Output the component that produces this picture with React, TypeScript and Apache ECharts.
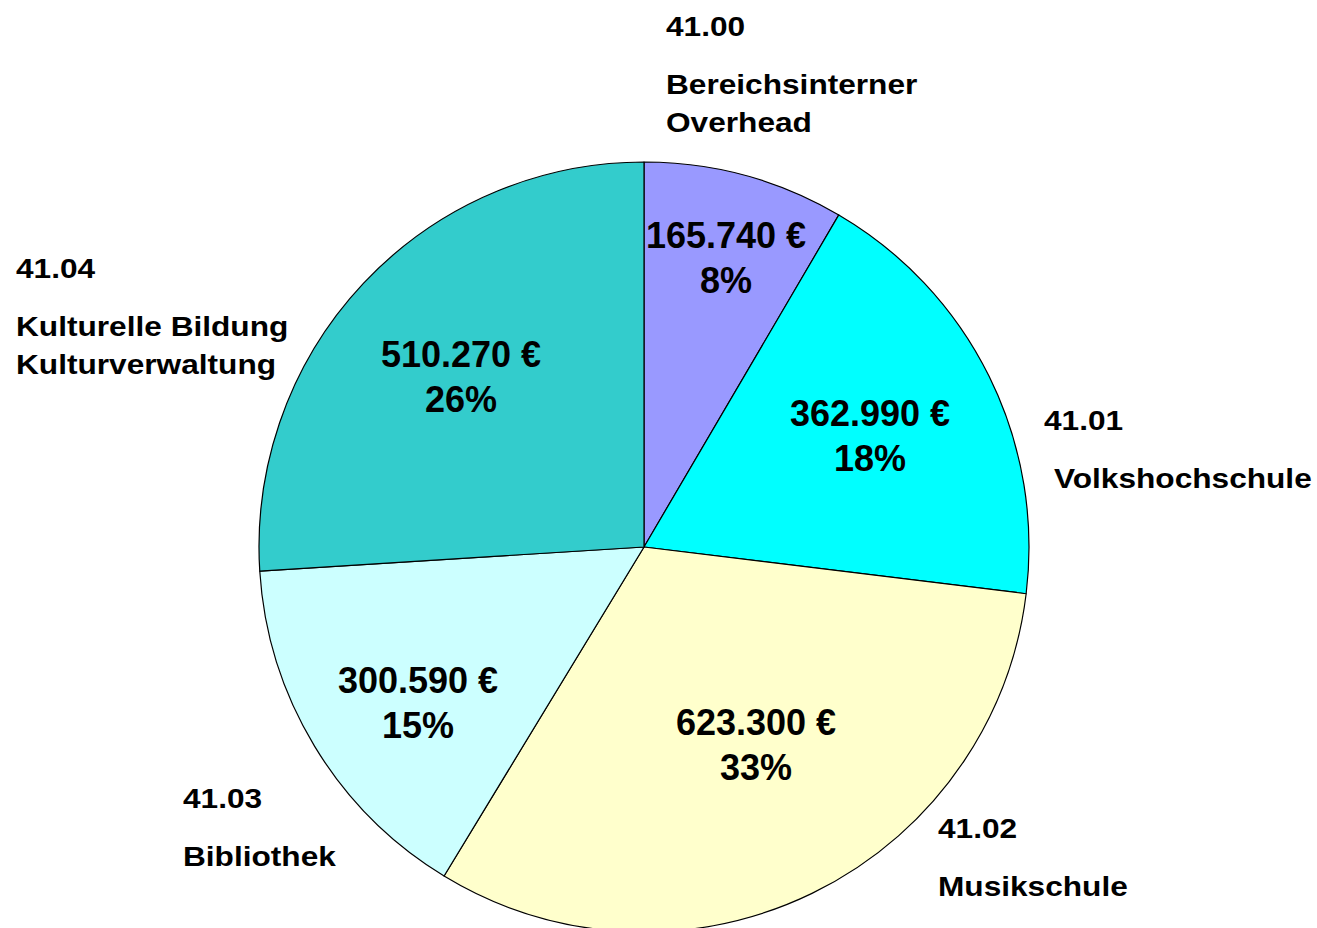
import React, { useEffect, useRef } from "react";
import * as echarts from "echarts";

// ---- data ----
const codes = ["41.00", "41.01", "41.02", "41.03", "41.04"];
const names = [
  ["Bereichsinterner", "Overhead"],
  ["Volkshochschule"],
  ["Musikschule"],
  ["Bibliothek"],
  ["Kulturelle Bildung", "Kulturverwaltung"],
];
const amounts = [165740, 362990, 623300, 300590, 510270];
const percents = [8, 18, 33, 15, 26];

// ---- styles / layout ----
const colors = ["#9999FF", "#00FFFF", "#FFFFCC", "#CCFFFF", "#33CCCC"];
const innerLabelPos = [
  [726, 258],
  [870, 436],
  [756, 745],
  [418, 703],
  [461, 377],
];
const outerLabelPos = [
  { x: 666, y: 26, nameX: 666 },
  { x: 1044, y: 420, nameX: 1054 },
  { x: 938, y: 828, nameX: 938 },
  { x: 183, y: 798, nameX: 183 },
  { x: 16, y: 268, nameX: 16 },
];
const FONT = "'Liberation Sans', Arial, Helvetica, sans-serif";

const fmt = (n: number) => String(n).replace(/\B(?=(\d{3})+(?!\d))/g, ".");

export default function App() {
  const ref = useRef<HTMLDivElement>(null);
  useEffect(() => {
    if (!ref.current) return;
    const chart = echarts.init(ref.current, undefined, { renderer: "svg" });

    const graphics: any[] = [];
    codes.forEach((c, i) => {
      const p = outerLabelPos[i];
      graphics.push({
        type: "text",
        x: p.x,
        y: p.y,
        scaleX: 1.13,
        silent: true,
        style: {
          text: c,
          fill: "#000",
          font: `bold 28px ${FONT}`,
          align: "left",
          verticalAlign: "middle",
        },
      });
      names[i].forEach((line, j) => {
        graphics.push({
          type: "text",
          x: p.nameX,
          y: p.y + 58 + j * 38,
          scaleX: 1.13,
          silent: true,
          style: {
            text: line,
            fill: "#000",
            font: `bold 28px ${FONT}`,
            align: "left",
            verticalAlign: "middle",
          },
        });
      });
    });

    chart.setOption({
      animation: false,
      backgroundColor: "#ffffff",
      series: [
        {
          type: "pie",
          center: [644, 547],
          radius: 385,
          startAngle: 90,
          clockwise: true,
          silent: true,
          data: amounts.map((v, i) => ({
            value: v,
            name: names[i].join(" "),
            itemStyle: { color: colors[i] },
          })),
          itemStyle: { borderColor: "#000", borderWidth: 1.2 },
          label: {
            show: true,
            position: "inside",
            formatter: (p: any) =>
              `${fmt(amounts[p.dataIndex])} €\n${percents[p.dataIndex]}%`,
            color: "#000",
            fontFamily: FONT,
            fontWeight: "bold",
            fontSize: 36,
            lineHeight: 45,
            align: "center",
          },
          labelLine: { show: false },
          labelLayout: (params: any) => ({
            x: innerLabelPos[params.dataIndex][0],
            y: innerLabelPos[params.dataIndex][1],
            align: "center",
            verticalAlign: "middle",
          }),
        },
      ],
      graphic: graphics,
    });
    return () => chart.dispose();
  }, []);

  return (
    <div
      ref={ref}
      style={{ position: "absolute", left: 0, top: 0, width: 1317, height: 928 }}
    />
  );
}
